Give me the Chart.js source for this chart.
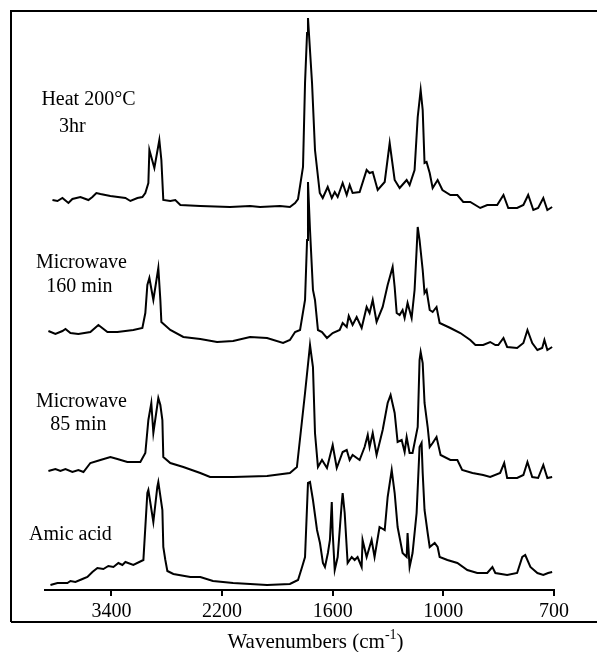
<!DOCTYPE html>
<html>
<head>
<meta charset="utf-8">
<script src="https://cdn.jsdelivr.net/npm/chart.js@4.4.0/dist/chart.umd.min.js"></script>
<style>
  html,body{margin:0;background:#fff}
  canvas{display:block}
</style>
</head>
<body>
<canvas id="irChart" width="597" height="652"></canvas>
<script>
// Axis tick labels (wavenumbers, cm-1); the printed axis is evenly spaced between them
const tickWn = [3400, 2200, 1600, 1000, 700];

// Heat 200°C 3hr
const heatWn  = [4039,3985,3931,3866,3823,3736,3649,3606,3563,3519,3411,3248,3194,3118,3064,3032,2999,2988,2934,2880,2858,2837,2761,2707,2652,2436,2157,2048,1994,1886,1832,1804,1788,1761,1750,1739,1734,1712,1696,1670,1654,1627,1605,1589,1573,1546,1524,1508,1492,1454,1416,1400,1383,1356,1318,1291,1264,1237,1199,1183,1156,1139,1123,1112,1102,1091,1074,1058,1031,1005,981,962,946,927,900,881,854,837,824,800,783,770,756,743,729,718,705];
const heatAbs = [0.7,0.6,0.9,0.4,0.8,1.0,0.7,1.0,1.4,1.3,1.1,0.9,0.6,0.9,1.0,1.4,2.4,5.7,3.9,6.7,4.7,0.7,0.6,0.7,0.2,0.1,0,0.1,0,0.1,0,0.4,0.8,4.0,12.4,17.4,18.9,12.4,5.7,1.4,0.9,2.0,0.9,1.5,1.0,2.4,1.2,2.2,1.4,1.5,3.7,3.4,3.5,1.7,2.5,6.4,2.7,1.9,2.7,2.2,3.7,9.0,11.7,9.7,4.4,4.5,3.4,1.9,2.7,1.7,1.2,1.2,0.5,0.5,-0.1,0.2,0.2,1.2,-0.1,-0.1,0.2,1.2,-0.3,-0.1,0.9,-0.3,0];

// Microwave 160 min
const mw160Wn  = [4083,4007,3931,3898,3844,3758,3628,3541,3443,3335,3162,3064,3032,3010,2988,2945,2891,2869,2858,2761,2620,2436,2254,2140,2048,1956,1869,1832,1804,1777,1750,1739,1734,1723,1707,1696,1680,1658,1631,1600,1562,1546,1524,1513,1492,1470,1443,1416,1400,1383,1362,1329,1302,1275,1264,1253,1237,1221,1210,1194,1172,1156,1145,1139,1129,1112,1102,1091,1074,1058,1037,1020,981,954,927,913,892,873,859,851,837,827,800,783,772,759,745,732,726,718,705];
const mw160Abs = [0.9,0.6,0.9,1.1,0.7,0.6,0.8,1.5,0.8,0.8,1.0,1.2,2.7,5.5,6.2,4.0,7.2,4.0,1.8,1.0,0.3,0.1,-0.2,-0.1,0.3,0.2,-0.3,0,0.8,1.0,4.0,10.0,15.8,11.0,5.0,4.0,1.0,0.8,0.2,0.7,1.0,1.7,1.3,2.4,1.5,2.3,1.2,3.3,2.7,4.0,1.8,3.3,5.5,7.3,5.3,2.7,2.5,3.0,2.2,3.7,2.2,5.0,9.0,11.3,10.0,7.0,4.7,5.0,3.0,2.8,3.3,1.7,1.2,0.7,0,-0.5,-0.5,-0.2,-0.5,-0.5,0.2,-0.7,-0.8,-0.3,1.0,-0.3,-1.0,-0.8,0,-1.0,-0.7];

// Microwave 85 min
const mw85Wn  = [4083,4007,3953,3898,3823,3758,3703,3628,3519,3411,3335,3227,3086,3032,2999,2967,2945,2891,2869,2847,2837,2761,2620,2436,2330,2140,1956,1832,1794,1766,1750,1723,1707,1696,1680,1658,1631,1600,1578,1546,1524,1508,1492,1454,1427,1410,1400,1383,1362,1329,1302,1286,1264,1248,1226,1210,1199,1183,1167,1139,1129,1123,1112,1102,1085,1074,1058,1037,1015,981,962,949,921,892,873,846,835,827,800,783,772,759,743,729,718,705];
const mw85Abs = [0.4,0.6,0.4,0.6,0.3,0.5,0.3,1.2,1.5,1.8,1.6,1.3,1.3,2.2,5.5,7.2,4.2,7.7,7.0,5.5,1.8,1.2,0.8,0.2,-0.2,-0.2,-0.1,0.2,0.8,5.5,8.2,13.0,10.8,4.2,0.8,1.5,0.7,3.0,0.7,2.3,2.5,1.5,2.0,1.5,2.8,4.0,2.8,4.2,2.0,4.5,7.2,8.0,6.2,3.3,3.5,2.3,3.8,2.2,2.2,4.8,11.5,12.3,11.2,7.2,4.8,2.8,3.2,3.8,2.0,1.5,1.5,0.5,0.2,0,-0.2,0.2,1.2,-0.3,-0.3,0,1.3,-0.2,-0.3,1.0,-0.3,-0.2];

// Amic acid
const amicWn  = [4061,3985,3877,3844,3790,3714,3660,3606,3552,3487,3433,3378,3324,3281,3248,3162,3053,3010,2999,2945,2902,2891,2847,2837,2815,2793,2728,2544,2436,2298,2140,1956,1832,1788,1766,1750,1734,1723,1707,1685,1669,1653,1642,1626,1615,1605,1600,1589,1573,1551,1546,1535,1519,1497,1481,1465,1443,1438,1416,1389,1373,1346,1318,1302,1280,1264,1248,1221,1199,1194,1183,1167,1145,1129,1118,1112,1102,1085,1074,1047,1031,1020,989,962,935,908,881,867,859,827,800,786,778,764,745,729,716,705];
const amicAbs = [0,0.2,0.2,0.4,0.3,0.6,0.8,1.3,1.7,1.6,1.9,1.8,2.2,2.0,2.3,2.0,2.5,9.2,9.5,6.3,9.8,10.3,7.5,3.8,2.5,1.4,1.1,0.8,0.8,0.4,0.2,0,0.1,0.5,1.8,2.8,10.2,10.3,8.5,5.5,4.2,2.2,1.8,3.2,4.5,8.3,5.2,1.5,2.8,8.2,9.2,7.2,2.2,2.8,2.5,2.8,1.8,4.5,2.8,4.5,2.8,5.8,5.5,8.8,11.5,9.2,5.8,3.2,2.8,5.2,1.8,3.2,7.2,13.8,14.2,11.2,7.5,5.2,3.8,4.2,3.8,2.8,2.5,2.2,1.5,1.2,1.2,1.8,1.2,1.0,1.2,2.8,3.0,1.8,1.2,1.0,1.2,1.3];

// vertical stacking of the traces
const offsets = [38.3, 25.0, 11.5, 0.5];

// text next to each trace (x in cm-1, y in stacked units)
const traceLabels = [
  {text:'Heat 200°C', wn:3649, y:49.0},
  {text:'3hr',        wn:3823, y:46.3},
  {text:'Microwave',  wn:3725, y:32.7},
  {text:'160 min',    wn:3747, y:30.3},
  {text:'Microwave',  wn:3725, y:18.8},
  {text:'85 min',     wn:3758, y:16.5},
  {text:'Amic acid',  wn:3844, y:5.5}
];

const SERIF = '"Liberation Serif", "Times New Roman", serif';

// piecewise axis: tick i sits at position i
function warp(wn){
  let i = 0;
  while(i < tickWn.length-2 && wn < tickWn[i+1]) i++;
  return i + (tickWn[i]-wn)/(tickWn[i]-tickWn[i+1]);
}

function makeSeries(wns, abs, off){
  return wns.map((w,i)=>({x:warp(w), y:abs[i]+off}));
}

const traces = [
  makeSeries(heatWn, heatAbs, offsets[0]),
  makeSeries(mw160Wn, mw160Abs, offsets[1]),
  makeSeries(mw85Wn, mw85Abs, offsets[2]),
  makeSeries(amicWn, amicAbs, offsets[3])
];

// frame, trace labels and axis title
const decorPlugin = {
  id:'decor',
  afterDraw(chart){
    const ctx = chart.ctx, xs = chart.scales.x, ys = chart.scales.y;
    const W = chart.width, H = chart.height;
    ctx.save();
    ctx.strokeStyle = '#000'; ctx.lineWidth = 2;
    ctx.beginPath();
    ctx.moveTo(11, H-30); ctx.lineTo(11, 11); ctx.lineTo(W, 11);
    ctx.moveTo(11, H-30); ctx.lineTo(W, H-30);
    ctx.stroke();

    ctx.fillStyle = '#000';
    ctx.font = '20px ' + SERIF;
    ctx.textAlign = 'center'; ctx.textBaseline = 'middle';
    traceLabels.forEach(l=>{
      ctx.fillText(l.text, xs.getPixelForValue(warp(l.wn)), ys.getPixelForValue(l.y));
    });

    // axis title with superscript
    const main = 'Wavenumbers (cm', sup = '-1', tail = ')';
    ctx.font = '21px ' + SERIF;
    const wMain = ctx.measureText(main).width, wTail = ctx.measureText(tail).width;
    ctx.font = '14px ' + SERIF;
    const wSup = ctx.measureText(sup).width;
    const cx = (xs.left + xs.right)/2 + 16;
    let x0 = cx - (wMain + wSup + wTail)/2;
    const ty = H - 10;
    ctx.textAlign = 'left';
    ctx.font = '21px ' + SERIF;
    ctx.fillText(main, x0, ty);
    ctx.font = '14px ' + SERIF;
    ctx.fillText(sup, x0 + wMain, ty - 7);
    ctx.font = '21px ' + SERIF;
    ctx.fillText(tail, x0 + wMain + wSup, ty);
    ctx.restore();
  }
};

new Chart(document.getElementById('irChart').getContext('2d'), {
  type:'line',
  data:{
    datasets: traces.map(d=>({
      data:d,
      borderColor:'#000',
      borderWidth:2,
      pointRadius:0,
      tension:0,
      fill:false
    }))
  },
  options:{
    responsive:false,
    animation:false,
    devicePixelRatio:1,
    layout:{padding:{left:45, right:43, top:11, bottom:0}},
    plugins:{legend:{display:false}, tooltip:{enabled:false}},
    scales:{
      x:{
        type:'linear', min:-0.6, max:4,
        afterBuildTicks: s => { s.ticks = tickWn.map((w,i)=>({value:i})); },
        afterFit: s => { s.height = 62; },
        ticks:{
          autoSkip:false, maxRotation:0, padding:4, color:'#000',
          font:{family:SERIF, size:20},
          callback:(v)=> String(tickWn[Math.round(v)])
        },
        grid:{drawOnChartArea:false, drawTicks:true, tickLength:6, color:'#000', lineWidth:2},
        border:{display:true, color:'#000', width:2}
      },
      y:{display:false, min:0, max:57.9}
    }
  },
  plugins:[decorPlugin]
});
</script>
</body>
</html>
